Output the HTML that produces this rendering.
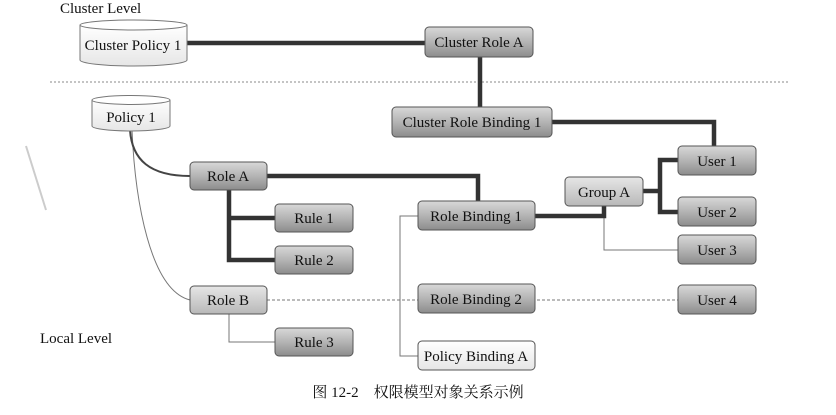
<!DOCTYPE html>
<html><head><meta charset="utf-8"><style>
html,body{margin:0;padding:0;background:#fff;}
svg{display:block;}
text{font-family:"Liberation Serif","Noto Serif CJK SC",serif;fill:#111;}
</style></head><body>
<svg width="836" height="415" viewBox="0 0 836 415" xmlns="http://www.w3.org/2000/svg">
<defs>
<linearGradient id="g" x1="0" y1="0" x2="0" y2="1">
<stop offset="0" stop-color="#d8d8d8"/><stop offset="0.5" stop-color="#b4b4b4"/><stop offset="1" stop-color="#8c8c8c"/></linearGradient>
<linearGradient id="gl" x1="0" y1="0" x2="0" y2="1">
<stop offset="0" stop-color="#e6e6e6"/><stop offset="1" stop-color="#b8b8b8"/></linearGradient>
<linearGradient id="gw" x1="0" y1="0" x2="0" y2="1">
<stop offset="0" stop-color="#ffffff"/><stop offset="1" stop-color="#e6e6e6"/></linearGradient>
</defs>
<rect width="836" height="415" fill="#fff"/>
<!-- scan artifact -->
<line x1="26" y1="146" x2="46" y2="210" stroke="#ccc" stroke-width="2"/>
<text x="60" y="13" font-size="15">Cluster Level</text>
<text x="40" y="343" font-size="15">Local Level</text>
<line x1="50" y1="82" x2="790" y2="82" stroke="#888" stroke-width="1" stroke-dasharray="2,2"/>

<!-- thin connectors -->
<g fill="none" stroke="#777" stroke-width="1">
<path d="M132 130 C135 200 150 290 190 300"/>
<line x1="267" y1="300" x2="678" y2="300" stroke-dasharray="3,2"/>
<polyline points="229,314 229,342 275,342"/>
<polyline points="418,216 400,216 400,356 418,356"/>
<polyline points="604,206 604,250 678,250"/>
</g>
<!-- thick connectors -->
<g fill="none" stroke="#333" stroke-width="4.5">
<line x1="187" y1="43" x2="425" y2="43"/>
<line x1="480" y1="57" x2="480" y2="107"/>
<polyline points="552,122 714,122 714,146"/>
<polyline points="267,176 478,176 478,201"/>
<polyline points="229,190 229,260 275,260"/>
<line x1="229" y1="218" x2="275" y2="218"/>
<polyline points="535,216 604,216 604,206"/>
<line x1="643" y1="191" x2="660" y2="191"/>
<polyline points="678,160 660,160 660,212 678,212"/>
</g>
<path d="M130 130 C132 160 150 176 190 176" fill="none" stroke="#444" stroke-width="2"/>

<!-- cylinders -->
<g stroke="#777" stroke-width="1">
<path d="M80 25 L80 60 A53.5 6 0 0 0 187 60 L187 25" fill="url(#gw)"/>
<ellipse cx="133.5" cy="25" rx="53.5" ry="5" fill="#fff"/>
<path d="M92 100 L92 126 A39 5 0 0 0 170 126 L170 100" fill="url(#gw)"/>
<ellipse cx="131" cy="100" rx="39" ry="4.5" fill="#fff"/>
</g>
<text x="133" y="50" font-size="15" text-anchor="middle">Cluster Policy 1</text>
<text x="131" y="122" font-size="15" text-anchor="middle">Policy 1</text>

<!-- boxes -->
<g stroke="#555" stroke-width="1">
<rect x="425" y="27" width="108" height="30" rx="4" fill="url(#g)"/>
<rect x="392" y="107" width="160" height="30" rx="4" fill="url(#g)"/>
<rect x="190" y="162" width="77" height="28" rx="4" fill="url(#g)"/>
<rect x="275" y="204" width="78" height="28" rx="4" fill="url(#g)"/>
<rect x="275" y="246" width="78" height="28" rx="4" fill="url(#g)"/>
<rect x="190" y="286" width="77" height="28" rx="4" fill="url(#gl)"/>
<rect x="275" y="328" width="78" height="28" rx="4" fill="url(#g)"/>
<rect x="418" y="201" width="117" height="29" rx="4" fill="url(#g)"/>
<rect x="418" y="284" width="117" height="29" rx="4" fill="url(#g)"/>
<rect x="418" y="341" width="117" height="29" rx="4" fill="url(#gw)"/>
<rect x="565" y="177" width="78" height="29" rx="4" fill="url(#gl)"/>
<rect x="678" y="146" width="78" height="29" rx="4" fill="url(#g)"/>
<rect x="678" y="197" width="78" height="29" rx="4" fill="url(#g)"/>
<rect x="678" y="235" width="78" height="29" rx="4" fill="url(#g)"/>
<rect x="678" y="285" width="78" height="29" rx="4" fill="url(#g)"/>
</g>
<g font-size="15" text-anchor="middle">
<text x="479" y="47">Cluster Role A</text>
<text x="472" y="127">Cluster Role Binding 1</text>
<text x="228" y="181">Role A</text>
<text x="314" y="223">Rule 1</text>
<text x="314" y="265">Rule 2</text>
<text x="228" y="305">Role B</text>
<text x="314" y="347">Rule 3</text>
<text x="476" y="221">Role Binding 1</text>
<text x="476" y="304">Role Binding 2</text>
<text x="476" y="361">Policy Binding A</text>
<text x="604" y="197">Group A</text>
<text x="717" y="166">User 1</text>
<text x="717" y="217">User 2</text>
<text x="717" y="255">User 3</text>
<text x="717" y="305">User 4</text>
</g>
<text x="418" y="397" font-size="15" text-anchor="middle">图 12-2　权限模型对象关系示例</text>
</svg>
</body></html>
